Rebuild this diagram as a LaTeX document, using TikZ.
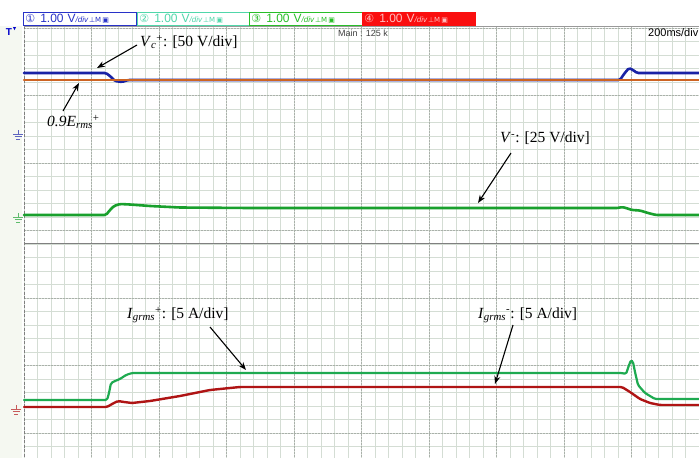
\documentclass[tikz,border=0pt]{standalone}
\usepackage{fontspec}
\setmainfont{Liberation Serif}
\setsansfont{Liberation Sans}
\newfontfamily\symfont{DejaVu Sans}
\usetikzlibrary{arrows.meta}

\definecolor{chblue}{RGB}{25,35,165}
\definecolor{chorange}{RGB}{205,100,35}
\definecolor{chgreen}{RGB}{25,160,45}
\definecolor{ilgreen}{RGB}{30,170,80}
\definecolor{ilred}{RGB}{175,20,20}
\definecolor{gridminor}{RGB}{212,221,212}
\definecolor{gridmajor}{RGB}{170,176,170}
\definecolor{leftstrip}{RGB}{245,248,241}
\definecolor{boxone}{RGB}{40,50,200}
\definecolor{boxtwo}{RGB}{80,215,170}
\definecolor{boxthree}{RGB}{40,190,40}
\definecolor{boxfour}{RGB}{250,15,15}

\newcommand{\chtext}[1]{{\symfont\fontsize{11}{11}\selectfont #1}\hspace{5pt}1.00 V{\fontsize{8}{8}\selectfont\itshape /div}\hspace{1pt}{\symfont\fontsize{7}{7}\selectfont ⊥M\,▣}}

\tikzset{
	minorgrid/.style={draw=gridminor,line width=0.6pt},
	majorgrid/.style={draw=gridmajor,line width=0.6pt,dash pattern=on 1.5pt off 1.5pt},
	trace/.style={line width=2.6pt,line join=round,line cap=round,rounded corners=1.5pt},
	note/.style={anchor=west,inner sep=0pt,font=\fontsize{15.5}{16}\selectfont},
	notearrow/.style={-{Stealth[length=8pt,width=6pt]},line width=1.1pt},
	chbox/.style={anchor=west,text width=109pt,inner xsep=2pt,inner ysep=0pt,minimum height=13pt,align=left,line width=0.8pt,font=\sffamily\fontsize{12}{12}\selectfont},
	gnd/.pic={\draw[line width=0.8pt] (-5,0) -- (5,0) (-3.5,2.5) -- (3.5,2.5) (-2,5) -- (2,5) (0,0) -- (0,-4);}
}

\begin{document}
\begin{tikzpicture}[x=1pt,y=-1pt]
	\useasboundingbox (0,0) rectangle (699,458);
	%background
	\fill[white] (0,0) rectangle (699,458);
	\fill[leftstrip] (0,26) rectangle (22,458);

	%grid
	\foreach \i in {0,...,50} \draw[minorgrid] ({24+13.5*\i},26) -- ({24+13.5*\i},458);
	\foreach \j in {0,...,31} \draw[minorgrid] (24,{28+13.5*\j}) -- (699,{28+13.5*\j});
	\foreach \i in {1,...,10} \draw[majorgrid] ({24+67.5*\i},26) -- ({24+67.5*\i},458);
	\foreach \j in {0,...,6} \draw[majorgrid] (24,{28+67.5*\j}) -- (699,{28+67.5*\j});
	\draw[gray,line width=0.9pt,dash pattern=on 3pt off 1.5pt] (24,26) -- (24,458); %left border
	\draw[gray!80,line width=0.9pt] (24,26) -- (699,26); %header line
	\draw[gray,line width=1pt] (24,243) -- (699,243); %window split

	%channel header
	\node[chbox,draw=boxone,fill=white,text=boxone] (chone) at (23,18.5) {\chtext{①}};
	\node[chbox,draw=boxtwo,fill=white,text=boxtwo] (chtwo) at (137,18.5) {\chtext{②}};
	\node[chbox,draw=boxthree,fill=white,text=boxthree] (chthree) at (249,18.5) {\chtext{③}};
	\node[chbox,draw=boxfour,fill=boxfour,text=red!25] (chfour) at (362,18.5) {\chtext{④}};
	\node[text=blue!80!black,font=\sffamily\bfseries\fontsize{10}{10}\selectfont] (trig) at (9,32) {T};
	\fill[blue!80!black] (13,27) -- (16,27) -- (14.5,30) -- cycle; %trigger mark
	\node[text=black!75,font=\sffamily\fontsize{9}{9}\selectfont] (mainzoom) at (363,33) {Main : 125 k};
	\node[anchor=east,inner sep=0pt,font=\sffamily\fontsize{11}{12}\selectfont] (timebase) at (698.5,33) {200ms/div};

	%ground marks
	\draw[chblue!70] (18,134) pic {gnd};
	\draw[chgreen!70] (18,217) pic {gnd};
	\draw[ilred!70] (16,409) pic {gnd};

	%traces
	\draw[trace,chblue] (24,73) -- (106,73) -- (110,76) -- (115,81) -- (122,82) -- (128,80) -- (620,80) -- (624,74) -- (629,68) -- (633,70) -- (637,73) -- (699,73); %Vc+
	\draw[trace,chorange] (24,80) -- (699,80); %0.9Erms+
	\draw[trace,chgreen] (24,215) -- (106,215) -- (110,210) -- (114,206) -- (120,204) -- (130,204.5) -- (150,206) -- (180,207.5) -- (250,208) -- (618,208) -- (622,207) -- (626,208) -- (632,210) -- (640,210.5) -- (648,213) -- (656,215) -- (699,215); %V-
	\draw[trace,ilred,line width=2.4pt] (24,407) -- (107,407) -- (112,404) -- (118,401) -- (124,402) -- (132,403) -- (150,401) -- (180,396) -- (210,390) -- (240,387) -- (622,387) -- (630,392) -- (640,399) -- (650,403) -- (660,405) -- (699,405); %Igrms-
	\draw[trace,ilgreen,line width=2.2pt] (24,400) -- (107,400) -- (109,393) -- (111,383) -- (115,381) -- (120,379) -- (126,375) -- (132,373) -- (622,373) -- (626,374) -- (628,368) -- (631,360) -- (633,362) -- (635,372) -- (638,385) -- (645,393) -- (655,399) -- (699,399); %Igrms+

	%labels
	\node[note] (vcp) at (140,42) {\textit{V}\textsubscript{\textit{c}}\textsuperscript{+}: [50 V/div]};
	\node[note] (erms) at (47,122) {\textit{0.9E}\textsubscript{\textit{rms}}\textsuperscript{+}};
	\node[note] (vneg) at (500,138) {\textit{V}\textsuperscript{-}: [25 V/div]};
	\node[note] (igp) at (127,315) {\textit{I}\textsubscript{\textit{grms}}\textsuperscript{+}: [5 A/div]};
	\node[note] (ign) at (478,315) {\textit{I}\textsubscript{\textit{grms}}\textsuperscript{-}: [5 A/div]};

	%arrows
	\coordinate (vcptail) at (137,45);
	\coordinate (vcptip) at (97,68);
	\coordinate (ermstail) at (63,111);
	\coordinate (ermstip) at (79,83);
	\coordinate (vnegtail) at (511,153);
	\coordinate (vnegtip) at (478,203);
	\coordinate (igptail) at (210,327);
	\coordinate (igptip) at (246,370);
	\coordinate (igntail) at (513,325);
	\coordinate (igntip) at (495,384);
	\draw[notearrow] (vcptail) -- (vcptip);
	\draw[notearrow] (ermstail) -- (ermstip);
	\draw[notearrow] (vnegtail) -- (vnegtip);
	\draw[notearrow] (igptail) -- (igptip);
	\draw[notearrow] (igntail) -- (igntip);
\end{tikzpicture}
\end{document}
